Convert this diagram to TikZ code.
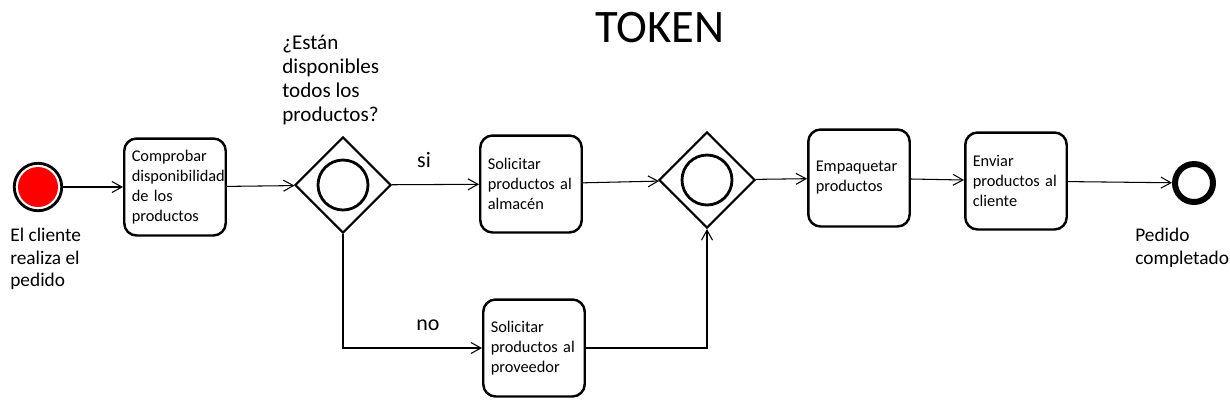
\documentclass[tikz,border=0pt]{standalone}
\usepackage{fontspec}
\setmainfont{Carlito}
\usepackage{tikz}
\usetikzlibrary{shapes.geometric,arrows.meta,positioning}

\begin{document}
\begin{tikzpicture}[x=0.02cm, y=-0.02cm,
    tasknode/.style={draw, rectangle, rounded corners=7pt, line width=1.4pt, minimum width=1.96cm, minimum height=1.94cm, text width=1.73cm, inner xsep=0.15cm, align=left, font=\fontsize{9.3}{11.4}\selectfont},
    gatenode/.style={draw, diamond, aspect=1, line width=1.2pt, minimum width=1.92cm, minimum height=1.92cm, inner sep=0pt},
    ring/.style={line width=1.6pt},
    startev/.style={draw, circle, line width=1.6pt, fill=white, minimum size=0.95cm, inner sep=0pt},
    endev/.style={draw, circle, line width=3.4pt, minimum size=0.76cm, inner sep=0pt},
    lbl/.style={align=left, font=\fontsize{11}{12.8}\selectfont, inner sep=0pt},
    flowlbl/.style={font=\fontsize{12.5}{15}\selectfont, inner sep=0pt},
    arr/.style={-{Straight Barb[length=2mm, width=2.2mm]}, line width=0.6pt}
  ]
    \useasboundingbox (0,0) rectangle (1230,414);

    \node[font=\fontsize{26.5}{32}\selectfont] (title) at (660,28) {TOKEN};

    \node[startev] (start) at (38,187) {};
    \fill[red] (start.center) circle[radius=0.4cm];
    \node[lbl, anchor=west] (startlbl) at (10,259) {El cliente\\realiza el\\pedido};

    \node[tasknode] (t1) at (175,187) {Comprobar\\disponibilidad\\de los\\productos};

    \node[gatenode] (g1) at (343,185) {};
    \draw[ring] (g1.center) circle[radius=0.5cm];
    \node[lbl, anchor=west, font=\fontsize{12}{13.6}\selectfont] (quest) at (282,80) {¿Están\\disponibles\\todos los\\productos?};

    \node[tasknode] (t2) at (531,184) {Solicitar\\productos al\\almacén};
    \node[tasknode] (t5) at (534,348) {Solicitar\\productos al\\proveedor};

    \node[gatenode] (g2) at (707,180) {};
    \draw[ring] (g2.center) circle[radius=0.5cm];

    \node[tasknode] (t3) at (859,178) {Empaquetar\\productos};
    \node[tasknode] (t4) at (1016,181) {Enviar\\productos al\\cliente};

    \node[endev] (end) at (1194,183) {};
    \node[lbl, anchor=west] (endlbl) at (1135,248) {Pedido\\completado};

    \node[flowlbl] (si) at (424,160) {si};
    \node[flowlbl] (no) at (428,325) {no};

    \draw[arr] (start) -- (t1);
    \draw[arr] (t1) -- (g1);
    \draw[arr] (g1) -- (t2);
    \draw[arr] (t2) -- (g2);
    \draw[arr] (g2) -- (t3);
    \draw[arr] (t3) -- (t4);
    \draw[arr] (t4) -- (end);
    \draw[arr] (g1.south) |- (t5);
    \draw[arr] (t5) -| (g2.south);
\end{tikzpicture}
\end{document}
